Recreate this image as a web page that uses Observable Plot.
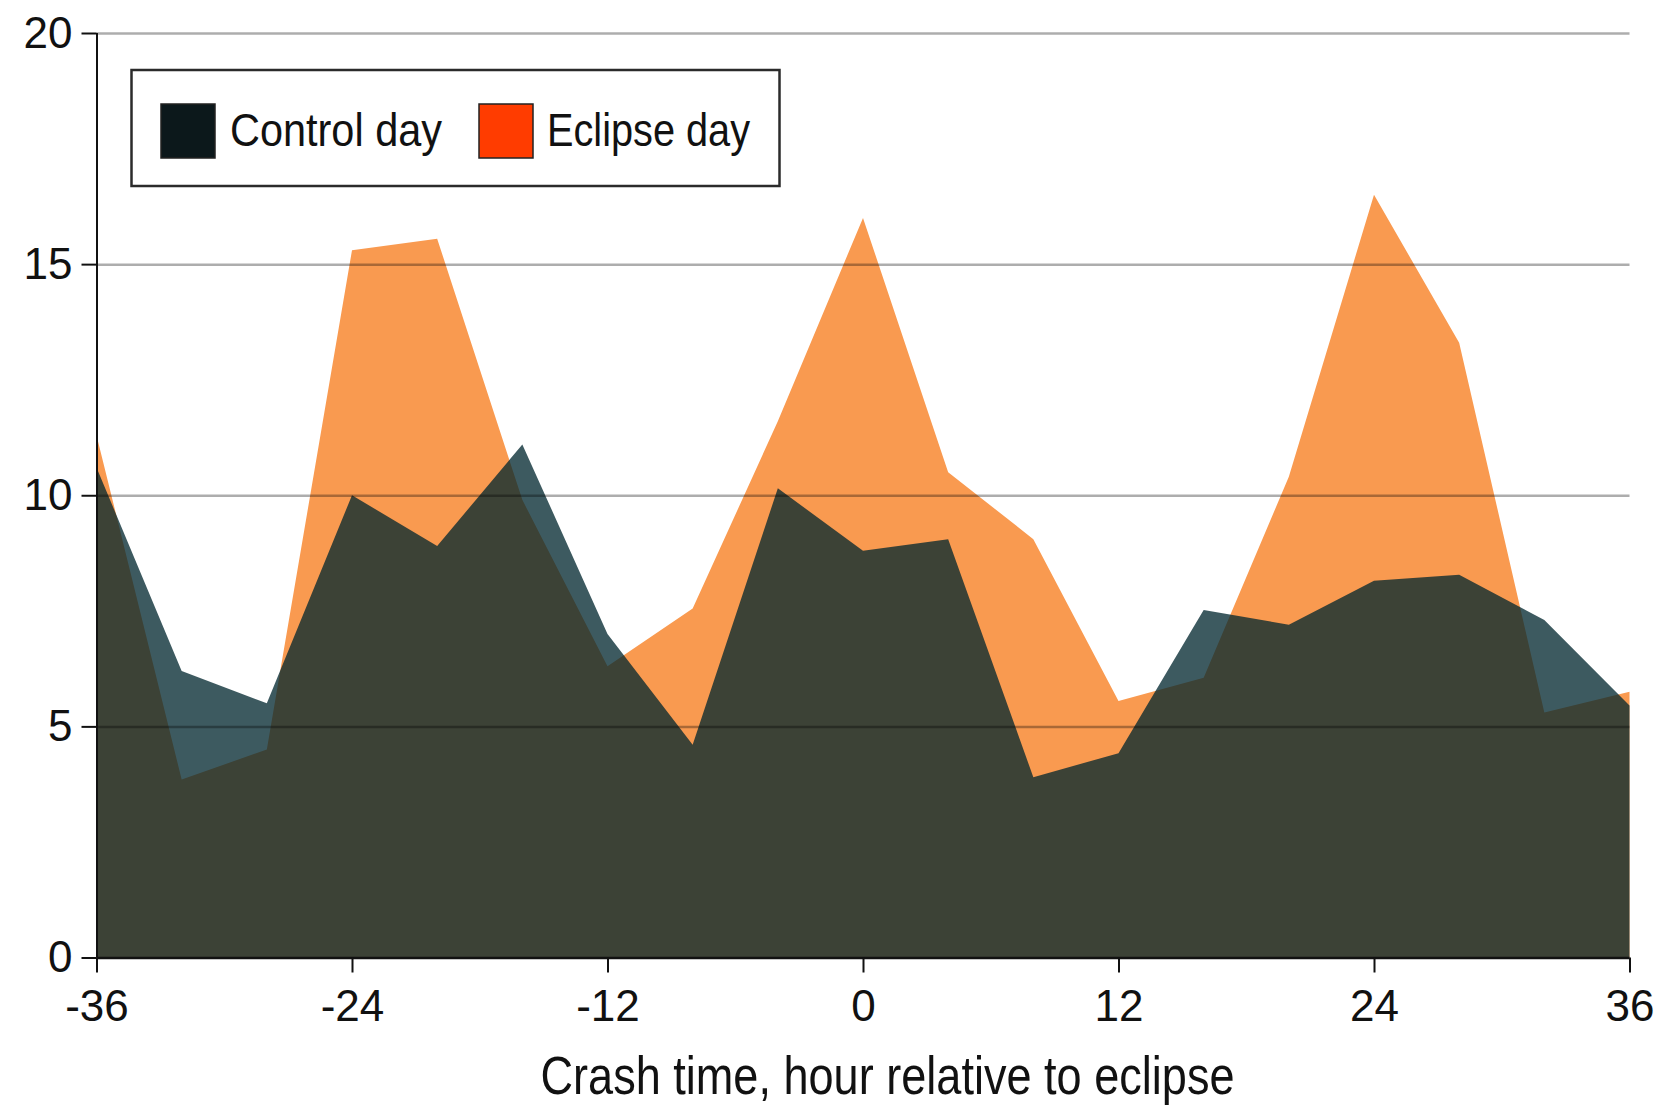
<!DOCTYPE html>
<html>
<head>
<meta charset="utf-8">
<script src="https://cdn.jsdelivr.net/npm/d3@7"></script>
<script src="https://cdn.jsdelivr.net/npm/@observablehq/plot@0.6"></script>
<style>
  html, body { margin: 0; padding: 0; background: #fff; overflow: hidden; }
  #wrap { position: relative; width: 1659px; height: 1105px; }
  #legend { position: absolute; left: 0; top: 0; }
</style>
</head>
<body>
<div id="wrap"></div>
<script>
// ---- data ----
const hours   = [-36, -32, -28, -24, -20, -16, -12, -8, -4, 0, 4, 8, 12, 16, 20, 24, 28, 32, 36];
const eclipse = [11.3, 3.85, 4.5, 15.3, 15.55, 9.9, 6.3, 7.55, 11.6, 16.0, 10.5, 9.05, 5.55, 6.05, 10.4, 16.5, 13.3, 5.3, 5.75];
const control = [10.6, 6.2, 5.5, 10.0, 8.9, 11.1, 7.0, 4.6, 10.15, 8.8, 9.05, 3.9, 4.42, 7.52, 7.2, 8.15, 8.28, 7.3, 5.45];
const seriesNames = ["Control day", "Eclipse day"];
const legendColors = ["#0c181b", "#ff3c00"];
const xTicks = [-36, -24, -12, 0, 12, 24, 36];
const yTicks = [0, 5, 10, 15, 20];
const xLabel = "Crash time, hour relative to eclipse";

const rows = hours.map((h, i) => ({hour: h, eclipse: eclipse[i], control: control[i]}));
const condensed = "'Liberation Sans', Arial, sans-serif";

const chart = Plot.plot({
  width: 1659,
  height: 1105,
  marginLeft: 96.5,
  marginRight: 29.5,
  marginTop: 33,
  marginBottom: 147.5,
  style: {fontFamily: "'Liberation Sans', Arial, sans-serif", background: "white", color: "#111"},
  x: {domain: [-36, 36]},
  y: {domain: [0, 20]},
  marks: [
    Plot.areaY(rows, {x: "hour", y: "eclipse", fill: "#F99A50", curve: "linear"}),
    Plot.areaY(rows, {x: "hour", y: "control", fill: "rgb(0,38,46)", fillOpacity: 0.76, curve: "linear"}),
    Plot.ruleY(yTicks.filter(v => v > 0), {stroke: "#000", strokeOpacity: 0.32, strokeWidth: 2.5}),
    Plot.ruleY([0], {stroke: "#111", strokeWidth: 2.5}),
    Plot.ruleX([-36], {stroke: "#111", strokeWidth: 2}),
    Plot.axisY({ticks: yTicks, tickSize: 15, tickPadding: 9.5, fontSize: 44, label: null, strokeWidth: 2, tickFormat: d => String(d)}),
    Plot.axisX({ticks: xTicks, tickSize: 15, tickPadding: 17, fontSize: 44, label: null, strokeWidth: 2, tickFormat: d => String(d)}),
    Plot.text([xLabel], {frameAnchor: "bottom", text: d => d, dx: 24, dy: 119.5, lineAnchor: "middle",
      fontSize: 53, fontFamily: condensed, fill: "#111"})
  ]
});

// condense the axis title to the reference's width
chart.querySelectorAll("text").forEach(t => {
  if (t.textContent === xLabel) {
    t.setAttribute("textLength", 694);
    t.setAttribute("lengthAdjust", "spacingAndGlyphs");
  }
});

const wrap = document.getElementById("wrap");
wrap.appendChild(chart);

// ---- legend (overlaid in the upper left of the plot frame) ----
const ns = "http://www.w3.org/2000/svg";
const lg = document.createElementNS(ns, "svg");
lg.setAttribute("id", "legend");
lg.setAttribute("width", 800);
lg.setAttribute("height", 200);
function el(tag, attrs, text) {
  const e = document.createElementNS(ns, tag);
  for (const k in attrs) e.setAttribute(k, attrs[k]);
  if (text != null) e.textContent = text;
  lg.appendChild(e);
  return e;
}
el("rect", {x: 131.5, y: 70, width: 648, height: 116, fill: "#fff", stroke: "#2b2b2b", "stroke-width": 2.5});
const swX = [161, 479];
const txX = [230, 547];
const txW = [212, 203];
seriesNames.forEach((name, i) => {
  el("rect", {x: swX[i], y: 104, width: 54, height: 54, fill: legendColors[i], stroke: "#222", "stroke-width": 1.5});
  el("text", {x: txX[i], y: 146, "font-family": condensed, "font-size": 46, fill: "#111",
    textLength: txW[i], lengthAdjust: "spacingAndGlyphs"}, name);
});
wrap.appendChild(lg);
</script>
</body>
</html>
